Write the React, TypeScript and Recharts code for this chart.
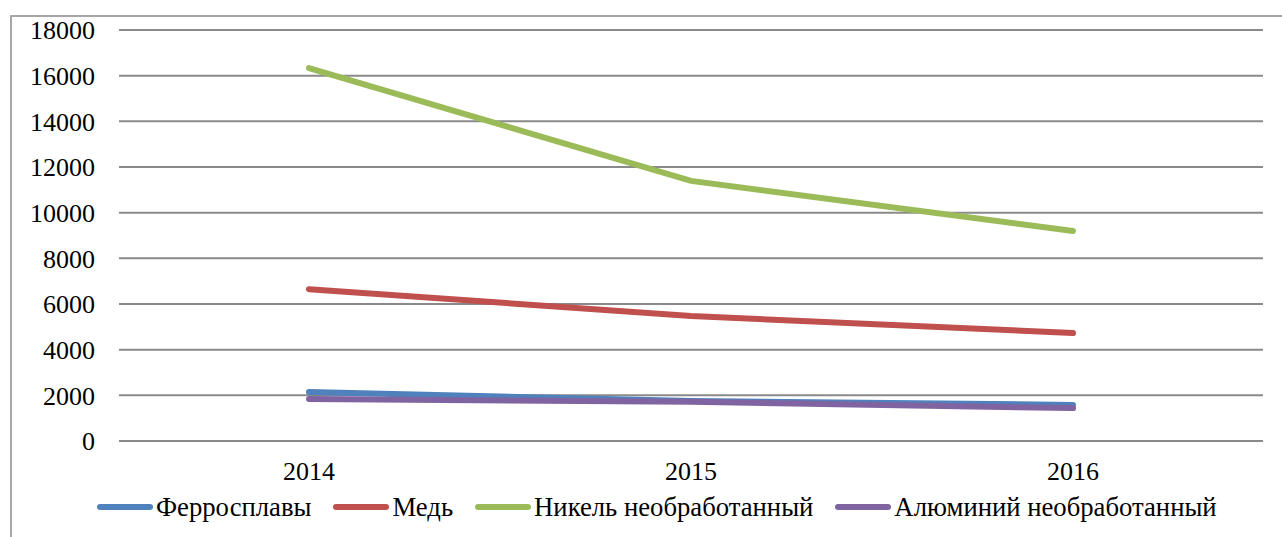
import { LineChart, Line, XAxis, YAxis, CartesianGrid, Legend } from "recharts";

const years = ["2014", "2015", "2016"];
const ferro = [2150, 1750, 1580];
const copper = [6650, 5470, 4730];
const nickel = [16330, 11390, 9200];
const aluminium = [1840, 1720, 1440];
const yTicks = [0, 2000, 4000, 6000, 8000, 10000, 12000, 14000, 16000, 18000];

const series = [
  { key: "ferro", name: "Ферросплавы", color: "#4f81bd" },
  { key: "copper", name: "Медь", color: "#c0504d" },
  { key: "nickel", name: "Никель необработанный", color: "#9bbb59" },
  { key: "aluminium", name: "Алюминий необработанный", color: "#8064a2" },
];

const data = years.map((y, i) => ({
  year: y,
  ferro: ferro[i],
  copper: copper[i],
  nickel: nickel[i],
  aluminium: aluminium[i],
}));

const FONT = "'Liberation Serif', 'Times New Roman', serif";

function LegendRow() {
  return (
    <div style={{ display: "flex", alignItems: "center", fontFamily: FONT, fontSize: 26.7, color: "#000", lineHeight: "30px", whiteSpace: "nowrap" }}>
      {series.map((s, i) => (
        <div key={s.key} style={{ display: "flex", alignItems: "center", marginLeft: i ? 22 : 0 }}>
          <svg width={56} height={10} style={{ marginRight: 3 }}>
            <line x1={3} y1={5} x2={53} y2={5} stroke={s.color} strokeWidth={6} strokeLinecap="round" />
          </svg>
          <span>{s.name}</span>
        </div>
      ))}
    </div>
  );
}

export default function App() {
  return (
    <div style={{ position: "absolute", left: 0, top: 0, width: 1282, height: 537, overflow: "hidden", background: "#fff" }}>
      <div style={{ position: "absolute", left: 10, top: 15, width: 1400, height: 700, border: "2px solid #a6a6a6" }} />
      <LineChart width={1282} height={537} data={data} margin={{ top: 30, right: 19, bottom: 0, left: 0 }}>
        <CartesianGrid vertical={false} stroke="#8a8a8a" strokeWidth={2} />
        <XAxis
          dataKey="year"
          axisLine={false}
          tickLine={false}
          tickSize={0}
          tickMargin={21}
          height={66}
          padding={{ left: 190, right: 190 }}
          tick={{ fill: "#000", fontSize: 26, fontFamily: FONT }}
        />
        <YAxis
          domain={[0, 18000]}
          ticks={yTicks}
          axisLine={false}
          tickLine={false}
          tickSize={0}
          tickMargin={24}
          width={119}
          interval={0}
          tick={{ fill: "#000", fontSize: 26, fontFamily: FONT }}
        />
        <Legend content={<LegendRow />} wrapperStyle={{ left: 97, top: 492, width: "auto" }} />
        {series.map((s) => (
          <Line
            key={s.key}
            dataKey={s.key}
            name={s.name}
            stroke={s.color}
            strokeWidth={6}
            dot={false}
            activeDot={false}
            strokeLinecap="round"
            isAnimationActive={false}
          />
        ))}
      </LineChart>
    </div>
  );
}
